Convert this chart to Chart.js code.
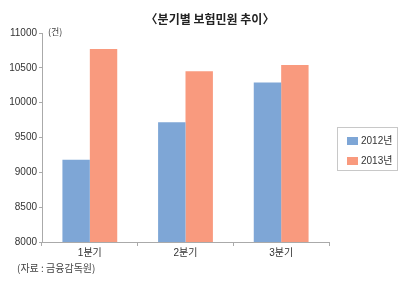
<!DOCTYPE html>
<html><head><meta charset="utf-8">
<script src="https://cdn.jsdelivr.net/npm/chart.js@4"></script>
<style>html,body{margin:0;padding:0;background:#fff;}#wrap{width:410px;height:285px;position:relative;}</style>
</head><body><div id="wrap"><canvas id="c" width="410" height="285"></canvas></div>
<script>
const categories = ["1분기", "2분기", "3분기"];
const seriesNames = ["2012년", "2013년"];
const values2012 = [9180, 9720, 10290];
const values2013 = [10770, 10450, 10540];
const yTicks = [8000, 8500, 9000, 9500, 10000, 10500, 11000];
const colors = ["#7ea6d6", "#f99a7e"];
const FONT = "'Liberation Sans', 'Noto Sans CJK KR', sans-serif";

const extras = {
  id: 'extras',
  afterDraw(chart) {
    const ctx = chart.ctx;
    ctx.save();
    ctx.fillStyle = '#222';
    ctx.font = "bold 12px 'Noto Sans CJK KR', sans-serif";
    ctx.textAlign = 'center'; ctx.textBaseline = 'middle';
    ctx.fillText('〈분기별 보험민원 추이〉', 210, 19);
    ctx.font = "9px 'Noto Sans CJK KR', sans-serif";
    ctx.fillStyle = '#444';
    ctx.textAlign = 'left';
    ctx.fillText('(건)', 48, 32);
    ctx.font = "10px 'Noto Sans CJK KR', sans-serif";
    ctx.fillText('(자료 : 금융감독원)', 17, 268);
    // legend box
    ctx.strokeStyle = '#c8c8c8'; ctx.lineWidth = 1;
    ctx.strokeRect(337.5, 127.5, 60, 43);
    ctx.font = "10px " + FONT;
    ctx.fillStyle = '#333';
    chart.data.datasets.forEach((ds, i) => {
      const y = 137 + i * 20;
      ctx.fillStyle = ds.backgroundColor;
      ctx.fillRect(347, y, 11, 8);
      ctx.fillStyle = '#333';
      ctx.textBaseline = 'middle';
      ctx.fillText(ds.label, 361, y + 4.5);
    });
    ctx.restore();
  }
};

new Chart(document.getElementById('c'), {
  type: 'bar',
  data: {
    labels: categories,
    datasets: [
      { label: seriesNames[0], data: values2012, backgroundColor: colors[0] },
      { label: seriesNames[1], data: values2013, backgroundColor: colors[1] }
    ]
  },
  options: {
    responsive: false, animation: false,
    layout: { padding: { left: 0, top: 33, right: 81, bottom: 0 } },
    plugins: { legend: { display: false }, title: { display: false }, tooltip: { enabled: false } },
    datasets: { bar: { categoryPercentage: 0.573, barPercentage: 1.0 } },
    scales: {
      x: {
        grid: { offset: true, drawOnChartArea: false, tickLength: 4, color: '#aaa' },
        border: { color: '#aaa', width: 1 },
        ticks: { font: { size: 10, family: FONT }, color: '#333', padding: 1 },
        afterFit(s) { s.height = 43; }
      },
      y: {
        min: 8000, max: 11000,
        afterBuildTicks(s) { s.ticks = yTicks.map(v => ({ value: v })); },
        grid: { drawOnChartArea: false, tickLength: 3, color: '#aaa' },
        border: { color: '#aaa', width: 1 },
        ticks: { font: { size: 10, family: FONT }, color: '#333', padding: 2, callback: (v) => String(v) },
        afterFit(s) { s.width = 42; }
      }
    }
  },
  plugins: [extras]
});
</script></body></html>
